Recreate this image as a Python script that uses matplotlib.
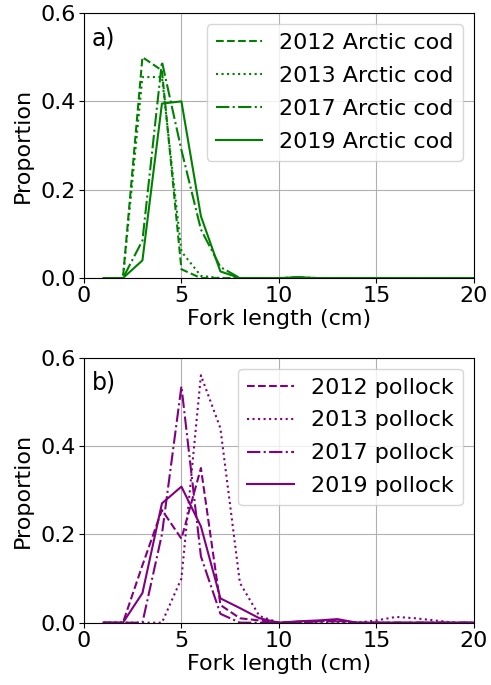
import matplotlib.pyplot as plt
import numpy as np

length = np.arange(1, 21)

# Arctic cod length proportions
cod_2012 = [0, 0, 0.50, 0.47, 0.02, 0, 0, 0, 0, 0, 0, 0, 0, 0, 0, 0, 0, 0, 0, 0]
cod_2013 = [0, 0, 0.455, 0.455, 0.06, 0.005, 0, 0, 0, 0, 0, 0, 0, 0, 0, 0, 0, 0, 0, 0]
cod_2017 = [0, 0, 0.085, 0.49, 0.29, 0.11, 0.025, 0, 0, 0, 0.002, 0, 0, 0, 0, 0, 0, 0, 0, 0]
cod_2019 = [0, 0, 0.04, 0.395, 0.40, 0.14, 0.015, 0, 0, 0, 0.002, 0, 0, 0, 0, 0, 0, 0, 0, 0]

# Pollock length proportions
pol_2012 = [0, 0, 0.13, 0.255, 0.19, 0.35, 0.04, 0.01, 0.005, 0, 0.002, 0.003, 0.004, 0, 0, 0, 0, 0, 0, 0]
pol_2013 = [0, 0, 0, 0, 0.1, 0.56, 0.44, 0.09, 0.015, 0, 0, 0, 0, 0, 0.005, 0.013, 0.01, 0.005, 0, 0]
pol_2017 = [0, 0, 0, 0.2, 0.535, 0.15, 0.02, 0, 0, 0, 0, 0.003, 0.003, 0, 0, 0, 0, 0, 0, 0]
pol_2019 = [0, 0, 0.067, 0.27, 0.308, 0.218, 0.055, 0.033, 0.01, 0, 0.003, 0.005, 0.008, 0, 0, 0, 0, 0, 0, 0]

years = ['2012', '2013', '2017', '2019']
styles = ['--', ':', '-.', '-']

plt.rcParams['font.size'] = 16
fig, (ax1, ax2) = plt.subplots(2, 1, figsize=(4.91, 6.85), dpi=100)

for ax, data, name, col, tag in [
    (ax1, [cod_2012, cod_2013, cod_2017, cod_2019], 'Arctic cod', 'green', 'a)'),
    (ax2, [pol_2012, pol_2013, pol_2017, pol_2019], 'pollock', 'purple', 'b)'),
]:
    for y, yr, ls in zip(data, years, styles):
        ax.plot(length, y, ls, color=col, lw=1.5, label=yr + ' ' + name)
    ax.set_xlim(0, 20)
    ax.set_ylim(0, 0.6)
    ax.set_xticks([0, 5, 10, 15, 20])
    ax.set_yticks([0, 0.2, 0.4, 0.6])
    ax.grid(True)
    ax.set_xlabel('Fork length (cm)', labelpad=2)
    ax.set_ylabel('Proportion', labelpad=5)
    ax.tick_params(pad=2.5)
    ax.text(0.02, 0.95, tag, transform=ax.transAxes, fontsize=17, va='top')
    ax.legend(loc='upper right', fontsize=16, handlelength=2.1,
              handletextpad=0.77, labelspacing=0.58)

fig.subplots_adjust(left=0.171, right=0.965, top=0.981, bottom=0.091, hspace=0.30)
fig.savefig('out.png')
